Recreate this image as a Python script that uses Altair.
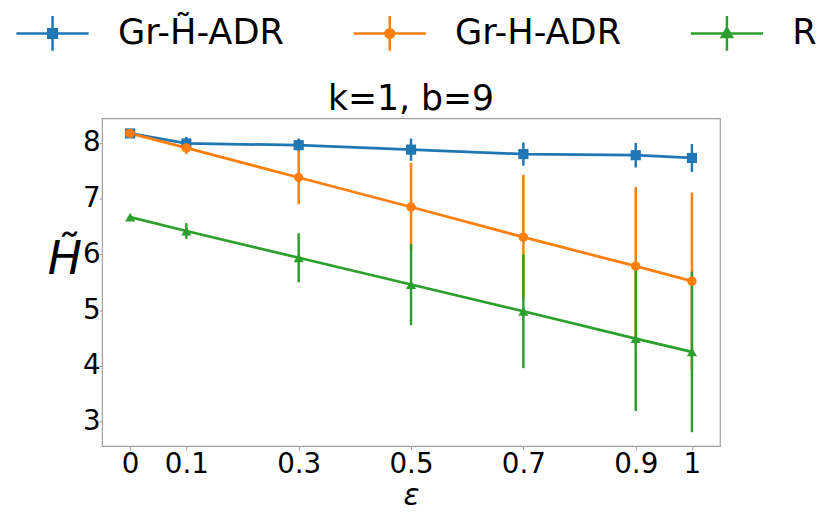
import altair as alt
import pandas as pd

# ---- data ----
eps = [0, 0.1, 0.3, 0.5, 0.7, 0.9, 1]
series_names = ["Gr-H\u0303-ADR", "Gr-H-ADR", "R"]
blue_mean = [8.17, 7.99, 7.96, 7.88, 7.80, 7.78, 7.73]
blue_err = [0.0, 0.12, 0.12, 0.20, 0.21, 0.22, 0.25]
orange_mean = [8.17, 7.91, 7.38, 6.85, 6.31, 5.79, 5.52]
orange_err = [0.0, 0.11, 0.48, 0.79, 1.12, 1.42, 1.59]
green_mean = [6.67, 6.42, 5.94, 5.46, 4.98, 4.49, 4.25]
green_err = [0.0, 0.14, 0.44, 0.73, 1.02, 1.30, 1.44]
x_ticks = [0, 0.1, 0.3, 0.5, 0.7, 0.9, 1]
y_ticks = [3, 4, 5, 6, 7, 8]

colors = ["#1f77b4", "#ff7f0e", "#2ca02c"]
marker_shapes = ["square", "circle", "triangle-up"]
marker_sizes = [105, 90, 105]
# legend glyphs (stroked): horizontal line + vertical error bar + small marker
legend_shapes = [
    "M-1,0H1M0,-0.48V0.48"
    "M-0.12,-0.12H0.12V0.12H-0.12Z"
    "M-0.06,-0.06H0.06V0.06H-0.06Z",
    "M-1,0H1M0,-0.48V0.48"
    "M0.12,0A0.12,0.12 0 1,1 -0.12,0A0.12,0.12 0 1,1 0.12,0Z"
    "M0.06,0A0.06,0.06 0 1,1 -0.06,0A0.06,0.06 0 1,1 0.06,0Z",
    "M-1,0H1M0,-0.48V0.48"
    "M0,-0.15L0.14,0.10L-0.14,0.10Z"
    "M0,-0.07L0.07,0.05L-0.07,0.05Z",
]

rows = []
for i, (name, m, e) in enumerate(zip(series_names,
                                     [blue_mean, orange_mean, green_mean],
                                     [blue_err, orange_err, green_err])):
    for xv, mv, ev in zip(eps, m, e):
        rows.append({"series": name, "order": i, "eps": xv, "mean": mv,
                     "lo": mv - ev, "hi": mv + ev})
df = pd.DataFrame(rows)

FONT = "DejaVu Sans"

x_enc = alt.X("eps:Q",
              scale=alt.Scale(domain=[-0.05, 1.05], nice=False, zero=False),
              axis=alt.Axis(values=x_ticks, format="~g", title="\u03b5",
                            titleFontStyle="italic", titleFontWeight="normal",
                            titleFontSize=30, titlePadding=2,
                            labelFontSize=28, labelPadding=1, tickSize=4,
                            grid=False, domain=False, tickColor="#999",
                            labelColor="black", titleColor="black",
                            labelFont=FONT, titleFont=FONT))
y_scale = alt.Scale(domain=[2.56, 8.44], nice=False, zero=False)
y_axis = alt.Axis(values=y_ticks, format="d", title="H\u0303",
                  titleAngle=0, titleFontStyle="italic", titleFontWeight="normal",
                  titleFontSize=46, titleX=-38, titleY=143,
                  titleAlign="center", titleBaseline="middle",
                  labelFontSize=28, labelPadding=-1, tickSize=3,
                  grid=False, domain=False, tickColor="#999",
                  labelColor="black", titleColor="black",
                  labelFont=FONT, titleFont=FONT)

base = alt.Chart(df)

bar_layers, line_layers, point_layers = [], [], []
for k, (name, col, shp, sz) in enumerate(zip(series_names, colors,
                                             marker_shapes, marker_sizes)):
    sub = base.transform_filter(alt.datum.series == name)
    if k == 0:
        bx, by = x_enc, alt.Y("lo:Q", scale=y_scale, axis=y_axis)
    else:
        bx, by = alt.X("eps:Q"), alt.Y("lo:Q", scale=y_scale)
    bar_layers.append(sub.mark_rule(strokeWidth=2.5, color=col).encode(
        x=bx, y=by, y2="hi:Q"))
    line_layers.append(sub.mark_line(strokeWidth=2.8, color=col).encode(
        x="eps:Q", y=alt.Y("mean:Q", scale=y_scale)))
    point_layers.append(sub.mark_point(filled=True, opacity=1, size=sz,
                                       shape=shp, color=col).encode(
        x="eps:Q", y=alt.Y("mean:Q", scale=y_scale)))

legend_layer = base.transform_filter("false").mark_point(
    filled=False, opacity=1, strokeWidth=2.5
).encode(
    x="eps:Q",
    y=alt.Y("mean:Q", scale=y_scale),
    color=alt.Color("series:N",
                    scale=alt.Scale(domain=series_names, range=colors),
                    legend=alt.Legend(title=None)),
    shape=alt.Shape("series:N",
                    scale=alt.Scale(domain=series_names, range=legend_shapes),
                    legend=alt.Legend(title=None)),
)

chart = alt.layer(*bar_layers, *line_layers, *point_layers, legend_layer).properties(
    width=624,
    height=331,
    title=alt.TitleParams("k=1, b=9", fontSize=35, fontWeight="normal",
                          font=FONT, color="black", baseline="alphabetic",
                          offset=7, anchor="middle", frame="group", dy=158),
    autosize=alt.AutoSizeParams(type="none"),
    padding={"left": 95, "top": 109, "right": 103, "bottom": 64},
).configure_view(
    stroke="#a0a0a0", strokeWidth=1.2
).configure_legend(
    orient="none", legendX=-88, legendY=-124, direction="horizontal",
    symbolSize=5329, symbolStrokeWidth=2.5, labelFontSize=35.5, labelFont=FONT,
    labelColor="black", labelOffset=28, columnPadding=64.5, padding=0,
    symbolOpacity=1, labelLimit=400,
)

chart.save("out.html", embed_options={"renderer": "svg", "actions": False})
